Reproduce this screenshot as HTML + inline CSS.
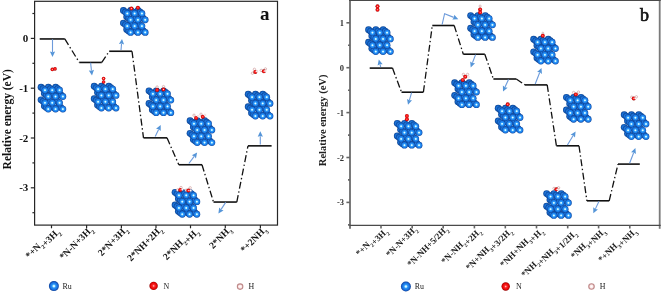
<!DOCTYPE html><html><head><meta charset="utf-8"><style>
html,body{margin:0;padding:0;background:#fff;overflow:hidden;width:661px;height:292px;}
svg{display:block;font-family:"Liberation Serif", serif;will-change:transform;}
.lv{stroke:#111;stroke-width:1.6;}
.cn{stroke:#111;stroke-width:1.3;stroke-dasharray:7 2.6 1.4 2.6;}
.ar{stroke:#6d9bdb;stroke-width:1.1;fill:none;}
.ax{stroke:#262626;stroke-width:1.2;fill:none;}
.axb{stroke:#666;stroke-width:1.6;fill:none;}
</style></head><body>
<svg width="661" height="292" viewBox="0 0 661 292">
<defs>
<radialGradient id="rf" cx="0.5" cy="0.5" r="0.5" fx="0.5" fy="0.5">
<stop offset="0" stop-color="#ffffff"/><stop offset="0.17" stop-color="#c6f3ff"/><stop offset="0.4" stop-color="#2e9cfb"/><stop offset="0.75" stop-color="#1a78e4"/><stop offset="1" stop-color="#0c469c"/>
</radialGradient>
<radialGradient id="rb" cx="0.5" cy="0.5" r="0.5">
<stop offset="0" stop-color="#3f9ef2"/><stop offset="0.55" stop-color="#1a72da"/><stop offset="1" stop-color="#0b4494"/>
</radialGradient>
<radialGradient id="gn" cx="0.5" cy="0.5" r="0.5">
<stop offset="0" stop-color="#ffd0d0"/><stop offset="0.3" stop-color="#ff2a2a"/><stop offset="0.8" stop-color="#dd0000"/><stop offset="1" stop-color="#900000"/>
</radialGradient>
<radialGradient id="gru" cx="0.5" cy="0.5" r="0.5">
<stop offset="0" stop-color="#ffffff"/><stop offset="0.16" stop-color="#c4f2ff"/><stop offset="0.38" stop-color="#2a98f6"/><stop offset="0.72" stop-color="#1a6ee0"/><stop offset="1" stop-color="#0c3f95"/>
</radialGradient>
<radialGradient id="gh" cx="0.5" cy="0.5" r="0.5"><stop offset="0" stop-color="#ffffff"/><stop offset="0.6" stop-color="#fde8e8"/><stop offset="1" stop-color="#e8b8b8"/></radialGradient>
<g id="slab">
<circle cx="2.70" cy="2.90" r="3.4" fill="url(#rb)"/>
<circle cx="10.00" cy="2.90" r="3.4" fill="url(#rb)"/>
<circle cx="17.30" cy="2.90" r="3.4" fill="url(#rb)"/>
<circle cx="6.00" cy="9.20" r="3.4" fill="url(#rb)"/>
<circle cx="13.30" cy="9.20" r="3.4" fill="url(#rb)"/>
<circle cx="20.60" cy="9.20" r="3.4" fill="url(#rb)"/>
<circle cx="2.70" cy="15.50" r="3.4" fill="url(#rb)"/>
<circle cx="10.00" cy="15.50" r="3.4" fill="url(#rb)"/>
<circle cx="17.30" cy="15.50" r="3.4" fill="url(#rb)"/>
<circle cx="6.00" cy="21.80" r="3.4" fill="url(#rb)"/>
<circle cx="13.30" cy="21.80" r="3.4" fill="url(#rb)"/>
<circle cx="20.60" cy="21.80" r="3.4" fill="url(#rb)"/>
<circle cx="4.65" cy="4.40" r="3.4" fill="url(#rb)"/>
<circle cx="11.95" cy="4.40" r="3.4" fill="url(#rb)"/>
<circle cx="19.25" cy="4.40" r="3.4" fill="url(#rb)"/>
<circle cx="7.95" cy="10.70" r="3.4" fill="url(#rb)"/>
<circle cx="15.25" cy="10.70" r="3.4" fill="url(#rb)"/>
<circle cx="22.55" cy="10.70" r="3.4" fill="url(#rb)"/>
<circle cx="4.65" cy="17.00" r="3.4" fill="url(#rb)"/>
<circle cx="11.95" cy="17.00" r="3.4" fill="url(#rb)"/>
<circle cx="19.25" cy="17.00" r="3.4" fill="url(#rb)"/>
<circle cx="7.95" cy="23.30" r="3.4" fill="url(#rb)"/>
<circle cx="15.25" cy="23.30" r="3.4" fill="url(#rb)"/>
<circle cx="22.55" cy="23.30" r="3.4" fill="url(#rb)"/>
<circle cx="6.60" cy="5.90" r="3.4" fill="url(#rf)"/>
<circle cx="13.90" cy="5.90" r="3.4" fill="url(#rf)"/>
<circle cx="21.20" cy="5.90" r="3.4" fill="url(#rf)"/>
<circle cx="9.90" cy="12.20" r="3.4" fill="url(#rf)"/>
<circle cx="17.20" cy="12.20" r="3.4" fill="url(#rf)"/>
<circle cx="24.50" cy="12.20" r="3.4" fill="url(#rf)"/>
<circle cx="6.60" cy="18.50" r="3.4" fill="url(#rf)"/>
<circle cx="13.90" cy="18.50" r="3.4" fill="url(#rf)"/>
<circle cx="21.20" cy="18.50" r="3.4" fill="url(#rf)"/>
<circle cx="9.90" cy="24.80" r="3.4" fill="url(#rf)"/>
<circle cx="17.20" cy="24.80" r="3.4" fill="url(#rf)"/>
<circle cx="24.50" cy="24.80" r="3.4" fill="url(#rf)"/>
</g></defs>
<rect x="34.6" y="1.3" width="242.9" height="223.79999999999998" class="ax"/>
<line x1="30.8" y1="38.4" x2="34.6" y2="38.4" class="ax"/>
<text x="28.3" y="41.9" font-size="11" font-weight="bold" text-anchor="end" fill="#111">0</text>
<line x1="30.8" y1="88.2" x2="34.6" y2="88.2" class="ax"/>
<text x="28.3" y="91.7" font-size="11" font-weight="bold" text-anchor="end" fill="#111">-1</text>
<line x1="30.8" y1="138.0" x2="34.6" y2="138.0" class="ax"/>
<text x="28.3" y="141.5" font-size="11" font-weight="bold" text-anchor="end" fill="#111">-2</text>
<line x1="30.8" y1="187.8" x2="34.6" y2="187.8" class="ax"/>
<text x="28.3" y="191.3" font-size="11" font-weight="bold" text-anchor="end" fill="#111">-3</text>
<line x1="32.4" y1="13.5" x2="34.6" y2="13.5" class="ax"/>
<line x1="32.4" y1="63.3" x2="34.6" y2="63.3" class="ax"/>
<line x1="32.4" y1="113.1" x2="34.6" y2="113.1" class="ax"/>
<line x1="32.4" y1="162.9" x2="34.6" y2="162.9" class="ax"/>
<line x1="32.4" y1="212.7" x2="34.6" y2="212.7" class="ax"/>
<line x1="51.5" y1="225.1" x2="51.5" y2="228.29999999999998" class="ax"/>
<line x1="86.6" y1="225.1" x2="86.6" y2="228.29999999999998" class="ax"/>
<line x1="121.4" y1="225.1" x2="121.4" y2="228.29999999999998" class="ax"/>
<line x1="156.0" y1="225.1" x2="156.0" y2="228.29999999999998" class="ax"/>
<line x1="190.5" y1="225.1" x2="190.5" y2="228.29999999999998" class="ax"/>
<line x1="225.3" y1="225.1" x2="225.3" y2="228.29999999999998" class="ax"/>
<line x1="260.4" y1="225.1" x2="260.4" y2="228.29999999999998" class="ax"/>
<text transform="translate(11.2,119.3) rotate(-90)" font-size="11.5" font-weight="bold" text-anchor="middle" fill="#111">Relative energy (eV)</text>
<text x="260" y="19.5" font-size="19" font-weight="bold" fill="#111">a</text>
<text transform="translate(58.2,230.2) rotate(-45)" font-size="9.6" font-weight="bold" text-anchor="end" fill="#111">*+N<tspan font-size="6" dy="3.1">2</tspan><tspan dy="-3.1"></tspan>+3H<tspan font-size="6" dy="3.1">2</tspan><tspan dy="-3.1"></tspan></text>
<text transform="translate(93.3,230.2) rotate(-45)" font-size="9.6" font-weight="bold" text-anchor="end" fill="#111">*N-N+3H<tspan font-size="6" dy="3.1">2</tspan><tspan dy="-3.1"></tspan></text>
<text transform="translate(128.1,230.2) rotate(-45)" font-size="9.6" font-weight="bold" text-anchor="end" fill="#111">2*N+3H<tspan font-size="6" dy="3.1">2</tspan><tspan dy="-3.1"></tspan></text>
<text transform="translate(162.7,230.2) rotate(-45)" font-size="9.6" font-weight="bold" text-anchor="end" fill="#111">2*NH+2H<tspan font-size="6" dy="3.1">2</tspan><tspan dy="-3.1"></tspan></text>
<text transform="translate(197.2,230.2) rotate(-45)" font-size="9.6" font-weight="bold" text-anchor="end" fill="#111">2*NH<tspan font-size="6" dy="3.1">2</tspan><tspan dy="-3.1"></tspan>+H<tspan font-size="6" dy="3.1">2</tspan><tspan dy="-3.1"></tspan></text>
<text transform="translate(232.0,230.2) rotate(-45)" font-size="9.6" font-weight="bold" text-anchor="end" fill="#111">2*NH<tspan font-size="6" dy="3.1">3</tspan><tspan dy="-3.1"></tspan></text>
<text transform="translate(267.1,230.2) rotate(-45)" font-size="9.6" font-weight="bold" text-anchor="end" fill="#111">*+2NH<tspan font-size="6" dy="3.1">3</tspan><tspan dy="-3.1"></tspan></text>
<line x1="39.7" y1="38.95" x2="64.8" y2="38.95" class="lv"/>
<line x1="64.8" y1="38.95" x2="79.3" y2="62.45" class="cn"/>
<line x1="79.3" y1="62.45" x2="101.8" y2="62.45" class="lv"/>
<line x1="101.8" y1="62.45" x2="109.2" y2="51.25" class="cn"/>
<line x1="109.2" y1="51.25" x2="132.0" y2="51.25" class="lv"/>
<line x1="132.0" y1="51.25" x2="143.5" y2="137.85" class="cn"/>
<line x1="143.5" y1="137.85" x2="167.0" y2="137.85" class="lv"/>
<line x1="167.0" y1="137.85" x2="178.8" y2="164.75" class="cn"/>
<line x1="178.8" y1="164.75" x2="202.0" y2="164.75" class="lv"/>
<line x1="202.0" y1="164.75" x2="213.5" y2="202.04999999999998" class="cn"/>
<line x1="213.5" y1="202.04999999999998" x2="236.8" y2="202.04999999999998" class="lv"/>
<line x1="236.8" y1="202.04999999999998" x2="248.0" y2="145.85" class="cn"/>
<line x1="248.0" y1="145.85" x2="271.6" y2="145.85" class="lv"/>
<polyline points="52.50,39.30 52.50,52.10" class="ar"/><polygon points="52.50,57.00 49.90,51.60 52.50,52.30 55.10,51.60" fill="#5595d8"/>
<polyline points="90.60,62.80 91.46,70.63" class="ar"/><polygon points="92.00,75.50 88.82,70.42 91.49,70.83 93.99,69.85" fill="#5595d8"/>
<polyline points="121.00,50.00 121.56,43.78" class="ar"/><polygon points="122.00,38.90 124.10,44.51 121.58,43.58 118.93,44.04" fill="#5595d8"/>
<polyline points="155.20,136.60 158.60,129.43" class="ar"/><polygon points="160.70,125.00 160.74,130.99 158.69,129.25 156.04,128.77" fill="#5595d8"/>
<polyline points="188.90,163.50 194.17,156.43" class="ar"/><polygon points="197.10,152.50 195.96,158.38 194.29,156.27 191.79,155.28" fill="#5595d8"/>
<polyline points="225.70,202.40 221.09,209.41" class="ar"/><polygon points="218.40,213.50 219.19,207.56 220.98,209.57 223.54,210.42" fill="#5595d8"/>
<polyline points="260.30,144.60 260.30,136.20" class="ar"/><polygon points="260.30,131.30 262.90,136.70 260.30,136.00 257.70,136.70" fill="#5595d8"/>
<use href="#slab" transform="translate(38.35,84.30)"/>
<use href="#slab" transform="translate(91.50,83.25)"/>
<use href="#slab" transform="translate(120.70,7.60)"/>
<use href="#slab" transform="translate(146.30,87.90)"/>
<use href="#slab" transform="translate(187.35,117.80)"/>
<use href="#slab" transform="translate(172.35,189.45)"/>
<use href="#slab" transform="translate(245.50,91.25)"/>
<circle cx="52.3" cy="69.4" r="1.8" fill="url(#gn)"/><circle cx="55.0" cy="68.9" r="1.8" fill="url(#gn)"/>
<circle cx="103.6" cy="82.0" r="1.8" fill="url(#gn)"/><circle cx="103.6" cy="78.6" r="1.8" fill="url(#gn)"/>
<circle cx="131.4" cy="8.6" r="2.0" fill="url(#gn)"/><circle cx="137.9" cy="7.8" r="2.0" fill="url(#gn)"/>
<circle cx="157.1" cy="87.0" r="1.2" fill="#fffafa" stroke="#c08484" stroke-width="0.5"/><circle cx="163.5" cy="86.6" r="1.2" fill="#fffafa" stroke="#c08484" stroke-width="0.5"/><circle cx="157.1" cy="90.0" r="2.0" fill="url(#gn)"/><circle cx="163.5" cy="89.5" r="2.0" fill="url(#gn)"/>
<circle cx="194.0" cy="115.2" r="1.2" fill="#fffafa" stroke="#c08484" stroke-width="0.5"/><circle cx="201.0" cy="114.2" r="1.2" fill="#fffafa" stroke="#c08484" stroke-width="0.5"/><circle cx="196.1" cy="117.9" r="2.0" fill="url(#gn)"/><circle cx="202.8" cy="116.8" r="2.0" fill="url(#gn)"/><circle cx="198.2" cy="116.3" r="1.0" fill="#ffffff" stroke="#e0b0b0" stroke-width="0.4"/><circle cx="204.9" cy="115.1" r="1.0" fill="#ffffff" stroke="#e0b0b0" stroke-width="0.4"/>
<circle cx="177.5" cy="190.0" r="1.2" fill="#fffafa" stroke="#c08484" stroke-width="0.5"/><circle cx="181.0" cy="187.5" r="1.2" fill="#fffafa" stroke="#c08484" stroke-width="0.5"/><circle cx="186.2" cy="190.2" r="1.2" fill="#fffafa" stroke="#c08484" stroke-width="0.5"/><circle cx="190.2" cy="187.8" r="1.2" fill="#fffafa" stroke="#c08484" stroke-width="0.5"/><circle cx="180.2" cy="189.9" r="2.0" fill="url(#gn)"/><circle cx="188.4" cy="190.6" r="2.0" fill="url(#gn)"/><circle cx="182.3" cy="189.4" r="1.0" fill="#ffffff" stroke="#e0b0b0" stroke-width="0.4"/><circle cx="190.6" cy="190.6" r="1.0" fill="#ffffff" stroke="#e0b0b0" stroke-width="0.4"/>
<circle cx="252.4" cy="73.2" r="1.2" fill="#fffafa" stroke="#c08484" stroke-width="0.5"/><circle cx="254.4" cy="69.3" r="1.2" fill="#fffafa" stroke="#c08484" stroke-width="0.5"/><circle cx="261.2" cy="70.4" r="1.2" fill="#fffafa" stroke="#c08484" stroke-width="0.5"/><circle cx="265.4" cy="68.9" r="1.2" fill="#fffafa" stroke="#c08484" stroke-width="0.5"/><circle cx="255.3" cy="71.9" r="2.0" fill="url(#gn)"/><circle cx="263.9" cy="71.3" r="2.0" fill="url(#gn)"/><circle cx="256.8" cy="71.2" r="1.0" fill="#ffffff" stroke="#e0b0b0" stroke-width="0.4"/><circle cx="265.2" cy="71.0" r="1.0" fill="#ffffff" stroke="#e0b0b0" stroke-width="0.4"/>
<line x1="350.0" y1="0" x2="350.0" y2="228.8" stroke="#7a7a7a" stroke-width="2"/>
<line x1="659.7" y1="0" x2="659.7" y2="228.8" stroke="#7a7a7a" stroke-width="1.8"/>
<line x1="349.0" y1="0.5" x2="660.7" y2="0.5" stroke="#4a4a4a" stroke-width="1.2"/>
<line x1="349.0" y1="225.4" x2="660.7" y2="225.4" stroke="#4a4a4a" stroke-width="1.3"/>
<line x1="346.4" y1="22.8" x2="350.0" y2="22.8" class="axb" stroke-width="1.2"/>
<text x="344.0" y="25.8" font-size="8.5" font-weight="bold" text-anchor="end" fill="#333">1</text>
<line x1="346.4" y1="67.7" x2="350.0" y2="67.7" class="axb" stroke-width="1.2"/>
<text x="344.0" y="70.7" font-size="8.5" font-weight="bold" text-anchor="end" fill="#333">0</text>
<line x1="346.4" y1="112.6" x2="350.0" y2="112.6" class="axb" stroke-width="1.2"/>
<text x="344.0" y="115.6" font-size="8.5" font-weight="bold" text-anchor="end" fill="#333">-1</text>
<line x1="346.4" y1="157.5" x2="350.0" y2="157.5" class="axb" stroke-width="1.2"/>
<text x="344.0" y="160.5" font-size="8.5" font-weight="bold" text-anchor="end" fill="#333">-2</text>
<line x1="346.4" y1="202.4" x2="350.0" y2="202.4" class="axb" stroke-width="1.2"/>
<text x="344.0" y="205.4" font-size="8.5" font-weight="bold" text-anchor="end" fill="#333">-3</text>
<line x1="348.0" y1="45.2" x2="350.0" y2="45.2" class="axb" stroke-width="1.2"/>
<line x1="348.0" y1="90.2" x2="350.0" y2="90.2" class="axb" stroke-width="1.2"/>
<line x1="348.0" y1="135.1" x2="350.0" y2="135.1" class="axb" stroke-width="1.2"/>
<line x1="348.0" y1="179.9" x2="350.0" y2="179.9" class="axb" stroke-width="1.2"/>
<line x1="348.0" y1="224.9" x2="350.0" y2="224.9" class="axb" stroke-width="1.2"/>
<line x1="381.0" y1="225.4" x2="381.0" y2="228.4" class="axb" stroke-width="1.2"/>
<line x1="412.2" y1="225.4" x2="412.2" y2="228.4" class="axb" stroke-width="1.2"/>
<line x1="443.2" y1="225.4" x2="443.2" y2="228.4" class="axb" stroke-width="1.2"/>
<line x1="474.4" y1="225.4" x2="474.4" y2="228.4" class="axb" stroke-width="1.2"/>
<line x1="505.3" y1="225.4" x2="505.3" y2="228.4" class="axb" stroke-width="1.2"/>
<line x1="536.5" y1="225.4" x2="536.5" y2="228.4" class="axb" stroke-width="1.2"/>
<line x1="567.7" y1="225.4" x2="567.7" y2="228.4" class="axb" stroke-width="1.2"/>
<line x1="598.6" y1="225.4" x2="598.6" y2="228.4" class="axb" stroke-width="1.2"/>
<line x1="629.8" y1="225.4" x2="629.8" y2="228.4" class="axb" stroke-width="1.2"/>
<text transform="translate(326.1,120.4) rotate(-90)" font-size="10.5" font-weight="bold" text-anchor="middle" fill="#222">Relative energy (eV)</text>
<text x="640.0" y="20.5" font-size="18" fill="#111" stroke="#111" stroke-width="0.65">b</text>
<text transform="translate(386.2,229.6) rotate(-45)" font-size="8.9" font-weight="bold" text-anchor="end" fill="#1a1a1a">*+N<tspan font-size="5.8" dy="3.0">2</tspan><tspan dy="-3.0"></tspan>+3H<tspan font-size="5.8" dy="3.0">2</tspan><tspan dy="-3.0"></tspan></text>
<text transform="translate(417.4,229.6) rotate(-45)" font-size="8.9" font-weight="bold" text-anchor="end" fill="#1a1a1a">*N-N+3H<tspan font-size="5.8" dy="3.0">2</tspan><tspan dy="-3.0"></tspan></text>
<text transform="translate(448.4,229.6) rotate(-45)" font-size="8.9" font-weight="bold" text-anchor="end" fill="#1a1a1a">*N-NH+5/2H<tspan font-size="5.8" dy="3.0">2</tspan><tspan dy="-3.0"></tspan></text>
<text transform="translate(479.6,229.6) rotate(-45)" font-size="8.9" font-weight="bold" text-anchor="end" fill="#1a1a1a">*N-NH<tspan font-size="5.8" dy="3.0">2</tspan><tspan dy="-3.0"></tspan>+2H<tspan font-size="5.8" dy="3.0">2</tspan><tspan dy="-3.0"></tspan></text>
<text transform="translate(510.5,229.6) rotate(-45)" font-size="8.9" font-weight="bold" text-anchor="end" fill="#1a1a1a">*N+NH<tspan font-size="5.8" dy="3.0">3</tspan><tspan dy="-3.0"></tspan>+3/2H<tspan font-size="5.8" dy="3.0">2</tspan><tspan dy="-3.0"></tspan></text>
<text transform="translate(541.7,229.6) rotate(-45)" font-size="8.9" font-weight="bold" text-anchor="end" fill="#1a1a1a">*NH+NH<tspan font-size="5.8" dy="3.0">3</tspan><tspan dy="-3.0"></tspan>+H<tspan font-size="5.8" dy="3.0">2</tspan><tspan dy="-3.0"></tspan></text>
<text transform="translate(572.9,229.6) rotate(-45)" font-size="8.9" font-weight="bold" text-anchor="end" fill="#1a1a1a">*NH<tspan font-size="5.8" dy="3.0">2</tspan><tspan dy="-3.0"></tspan>+NH<tspan font-size="5.8" dy="3.0">3</tspan><tspan dy="-3.0"></tspan>+1/2H<tspan font-size="5.8" dy="3.0">2</tspan><tspan dy="-3.0"></tspan></text>
<text transform="translate(603.8,229.6) rotate(-45)" font-size="8.9" font-weight="bold" text-anchor="end" fill="#1a1a1a">*NH<tspan font-size="5.8" dy="3.0">3</tspan><tspan dy="-3.0"></tspan>+NH<tspan font-size="5.8" dy="3.0">3</tspan><tspan dy="-3.0"></tspan></text>
<text transform="translate(635.0,229.6) rotate(-45)" font-size="8.9" font-weight="bold" text-anchor="end" fill="#1a1a1a">*+NH<tspan font-size="5.8" dy="3.0">3</tspan><tspan dy="-3.0"></tspan>+NH<tspan font-size="5.8" dy="3.0">3</tspan><tspan dy="-3.0"></tspan></text>
<line x1="369.7" y1="68.1" x2="392.5" y2="68.1" class="lv"/>
<line x1="392.5" y1="68.1" x2="401.5" y2="92.2" class="cn"/>
<line x1="401.5" y1="92.2" x2="423.4" y2="92.2" class="lv"/>
<line x1="423.4" y1="92.2" x2="432.3" y2="25.5" class="cn"/>
<line x1="432.3" y1="25.5" x2="454.2" y2="25.5" class="lv"/>
<line x1="454.2" y1="25.5" x2="463.3" y2="54.199999999999996" class="cn"/>
<line x1="463.3" y1="54.199999999999996" x2="484.8" y2="54.199999999999996" class="lv"/>
<line x1="484.8" y1="54.199999999999996" x2="493.4" y2="79.0" class="cn"/>
<line x1="493.4" y1="79.0" x2="516.3" y2="79.0" class="lv"/>
<line x1="516.3" y1="79.0" x2="525" y2="84.89999999999999" class="cn"/>
<line x1="525" y1="84.89999999999999" x2="547.2" y2="84.89999999999999" class="lv"/>
<line x1="547.2" y1="84.89999999999999" x2="556.4" y2="145.8" class="cn"/>
<line x1="556.4" y1="145.8" x2="579" y2="145.8" class="lv"/>
<line x1="579" y1="145.8" x2="586.9" y2="200.8" class="cn"/>
<line x1="586.9" y1="200.8" x2="609.2" y2="200.8" class="lv"/>
<line x1="609.2" y1="200.8" x2="618" y2="164.10000000000002" class="cn"/>
<line x1="618" y1="164.10000000000002" x2="639.8" y2="164.10000000000002" class="lv"/>
<polyline points="380.70,67.00 380.02,64.35" class="ar"/><polygon points="378.80,59.60 382.66,64.18 379.97,64.15 377.62,65.48" fill="#5595d8"/>
<polyline points="411.60,92.70 409.40,100.10" class="ar"/><polygon points="408.00,104.80 407.05,98.88 409.34,100.30 412.03,100.37" fill="#5595d8"/>
<polyline points="442.10,24.70 444.60,13.70 453.75,17.37" class="ar"/><polygon points="458.30,19.20 452.32,19.60 453.94,17.45 454.26,14.78" fill="#5595d8"/>
<polyline points="475.60,54.60 472.45,62.82" class="ar"/><polygon points="470.70,67.40 470.20,61.43 472.38,63.01 475.06,63.29" fill="#5595d8"/>
<polyline points="508.50,79.50 505.04,87.05" class="ar"/><polygon points="503.00,91.50 502.89,85.51 504.96,87.23 507.61,87.67" fill="#5595d8"/>
<polyline points="535.20,84.00 539.70,72.56" class="ar"/><polygon points="541.50,68.00 541.94,73.98 539.78,72.37 537.10,72.07" fill="#5595d8"/>
<polyline points="567.40,145.00 573.04,135.78" class="ar"/><polygon points="575.60,131.60 575.00,137.56 573.15,135.61 570.56,134.85" fill="#5595d8"/>
<polyline points="599.00,201.20 595.39,208.87" class="ar"/><polygon points="593.30,213.30 593.25,207.31 595.30,209.05 597.95,209.52" fill="#5595d8"/>
<polyline points="629.60,163.30 633.65,152.68" class="ar"/><polygon points="635.40,148.10 635.90,154.07 633.72,152.49 631.05,152.22" fill="#5595d8"/>
<use href="#slab" transform="translate(365.85,26.75)"/>
<use href="#slab" transform="translate(394.55,120.40)"/>
<use href="#slab" transform="translate(467.95,12.65)"/>
<use href="#slab" transform="translate(451.95,79.85)"/>
<use href="#slab" transform="translate(495.50,105.30)"/>
<use href="#slab" transform="translate(530.95,36.30)"/>
<use href="#slab" transform="translate(563.70,94.45)"/>
<use href="#slab" transform="translate(543.95,190.65)"/>
<use href="#slab" transform="translate(621.50,111.80)"/>
<circle cx="377.5" cy="6.3" r="2.0" fill="url(#gn)"/><circle cx="377.5" cy="9.8" r="2.0" fill="url(#gn)"/>
<circle cx="406.9" cy="119.2" r="2.0" fill="url(#gn)"/><circle cx="406.9" cy="116.0" r="2.0" fill="url(#gn)"/>
<circle cx="480.1" cy="6.1" r="1.1" fill="#fffafa" stroke="#c08484" stroke-width="0.5"/><circle cx="480.1" cy="9.4" r="2.0" fill="url(#gn)"/><circle cx="480.1" cy="12.4" r="2.0" fill="url(#gn)"/>
<circle cx="463.4" cy="74.4" r="1.2" fill="#fffafa" stroke="#c08484" stroke-width="0.5"/><circle cx="467.6" cy="74.4" r="1.2" fill="#fffafa" stroke="#c08484" stroke-width="0.5"/><circle cx="465.2" cy="76.7" r="2.0" fill="url(#gn)"/><circle cx="462.8" cy="79.9" r="2.0" fill="url(#gn)"/><circle cx="468.4" cy="77.0" r="1.0" fill="#ffffff" stroke="#e0b0b0" stroke-width="0.4"/>
<circle cx="507.7" cy="104.3" r="2.0" fill="url(#gn)"/>
<circle cx="542.8" cy="33.2" r="1.0" fill="#fffafa" stroke="#c08484" stroke-width="0.5"/><circle cx="542.8" cy="35.8" r="2.0" fill="url(#gn)"/>
<circle cx="573.6" cy="92.5" r="1.2" fill="#fffafa" stroke="#c08484" stroke-width="0.5"/><circle cx="578.5" cy="92.1" r="1.2" fill="#fffafa" stroke="#c08484" stroke-width="0.5"/><circle cx="575.9" cy="94.4" r="2.0" fill="url(#gn)"/>
<circle cx="554.0" cy="188.4" r="1.2" fill="#fffafa" stroke="#c08484" stroke-width="0.5"/><circle cx="558.6" cy="187.8" r="1.2" fill="#fffafa" stroke="#c08484" stroke-width="0.5"/><circle cx="556.4" cy="189.3" r="2.0" fill="url(#gn)"/><circle cx="557.9" cy="189.4" r="1.0" fill="#ffffff" stroke="#e0b0b0" stroke-width="0.4"/>
<circle cx="631.8" cy="97.2" r="1.2" fill="#fffafa" stroke="#c08484" stroke-width="0.5"/><circle cx="636.4" cy="96.8" r="1.2" fill="#fffafa" stroke="#c08484" stroke-width="0.5"/><circle cx="633.8" cy="98.4" r="2.0" fill="url(#gn)"/><circle cx="635.4" cy="98.2" r="1.0" fill="#ffffff" stroke="#e0b0b0" stroke-width="0.4"/>
<circle cx="53.9" cy="286.1" r="5" fill="url(#gru)"/><text x="62.5" y="288.70000000000005" font-size="7.9" fill="#1a1a1a">Ru</text><circle cx="153.6" cy="285.9" r="4.2" fill="url(#gn)"/><text x="163.6" y="288.5" font-size="7.9" fill="#1a1a1a">N</text><circle cx="240.1" cy="286.6" r="2.75" fill="url(#gh)" stroke="#bf8c8c" stroke-width="1.1"/><text x="248.6" y="289.20000000000005" font-size="7.9" fill="#1a1a1a">H</text>
<circle cx="405.9" cy="286.5" r="5" fill="url(#gru)"/><text x="414.8" y="289.1" font-size="7.9" fill="#1a1a1a">Ru</text><circle cx="505.7" cy="286.5" r="4.2" fill="url(#gn)"/><text x="516" y="289.1" font-size="7.9" fill="#1a1a1a">N</text><circle cx="591.5" cy="286.5" r="2.75" fill="url(#gh)" stroke="#bf8c8c" stroke-width="1.1"/><text x="599.8" y="289.1" font-size="7.9" fill="#1a1a1a">H</text>
</svg></body></html>
